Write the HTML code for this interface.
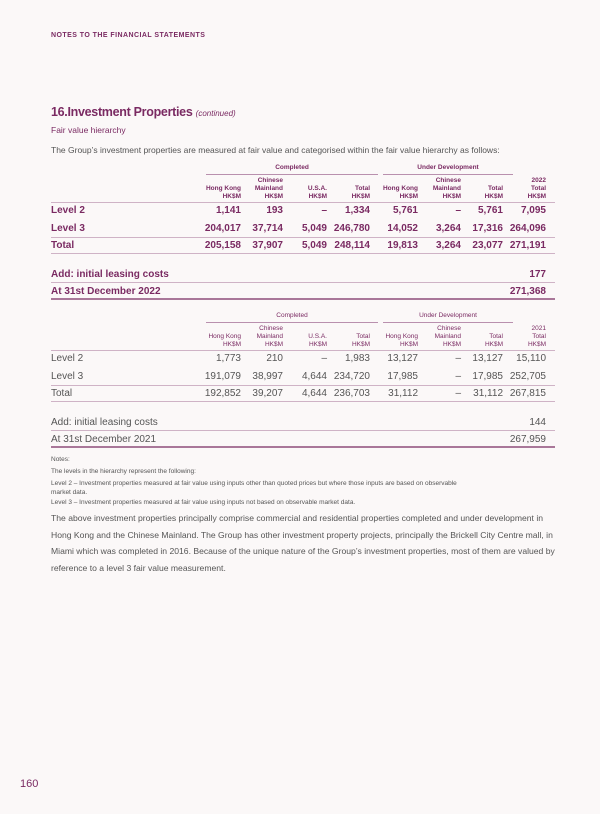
<!DOCTYPE html>
<html><head><meta charset="utf-8"><style>
body{margin:0;background:#fbf8f8;}
#p{position:relative;width:600px;height:814px;overflow:hidden;font-family:"Liberation Sans",sans-serif;color:#555;}
.a{position:absolute;white-space:nowrap;}
.r{position:absolute;text-align:right;white-space:nowrap;}
.pu{color:#7a2a62;}
.ln{position:absolute;left:51px;width:504px;height:1px;background:#cfb3c6;}
.t{font-size:10px;}
.h{font-size:6.5px;line-height:8px;}
.b{font-weight:bold;}
</style></head><body><div id="p">
<div class="a pu b" style="left:51px;top:32px;font-size:7px;letter-spacing:0.45px;">NOTES TO THE FINANCIAL STATEMENTS</div>
<div class="a pu" style="left:51px;top:105px;font-size:12.5px;font-weight:bold;letter-spacing:-0.3px;">16.Investment Properties <span style="font-size:8px;font-weight:normal;font-style:italic;letter-spacing:0;">(continued)</span></div>
<div class="a pu" style="left:51px;top:125px;font-size:8.5px;">Fair value hierarchy</div>
<div class="a" style="left:51px;top:145px;font-size:8.5px;">The Group’s investment properties are measured at fair value and categorised within the fair value hierarchy as follows:</div>

<div id="t1"></div>
<div id="t2"></div>

<div class="a" style="left:51px;top:455px;font-size:6.5px;line-height:9.5px;">Notes:<br><span style="line-height:14px">The levels in the hierarchy represent the following:</span><br>Level 2 – Investment properties measured at fair value using inputs other than quoted prices but where those inputs are based on observable<br>market data.<br>Level 3 – Investment properties measured at fair value using inputs not based on observable market data.</div>
<div class="a" style="left:51px;top:510px;font-size:8.6px;line-height:16.6px;">The above investment properties principally comprise commercial and residential properties completed and under development in<br>Hong Kong and the Chinese Mainland. The Group has other investment property projects, principally the Brickell City Centre mall, in<br>Miami which was completed in 2016. Because of the unique nature of the Group’s investment properties, most of them are valued by<br>reference to a level 3 fair value measurement.</div>
<div class="a pu" style="left:20px;top:778px;font-size:11px;">160</div>
<script>
var R=[241,283,327,370,418,461,503,546];
function tbl(el,y0,bold,year,rows,add,at){
 var h='',b=bold?'font-weight:bold;':'',c=bold?'color:#7a2a62;':'';
 h+='<div class="a h pu" style="left:206px;width:172px;text-align:center;top:'+(y0-4)+'px;'+b+'">Completed</div>';
 h+='<div class="a h pu" style="left:383px;width:130px;text-align:center;top:'+(y0-4)+'px;'+b+'">Under Development</div>';
 h+='<div class="a" style="left:206px;width:172px;height:1px;background:#b990ae;top:'+(y0+6)+'px"></div>';
 h+='<div class="a" style="left:383px;width:130px;height:1px;background:#b990ae;top:'+(y0+6)+'px"></div>';
 var hd=[['','Hong Kong','HK$M'],['Chinese','Mainland','HK$M'],['','U.S.A.','HK$M'],['','Total','HK$M'],['','Hong Kong','HK$M'],['Chinese','Mainland','HK$M'],['','Total','HK$M'],[year,'Total','HK$M']];
 hd.forEach(function(x,i){h+='<div class="r h pu" style="'+b+'right:'+(600-R[i])+'px;top:'+(y0+9)+'px">'+x.join('<br>')+'</div>';});
 var y=y0+34;
 h+='<div class="ln" style="top:'+y+'px"></div>';
 rows.forEach(function(r,k){
  var ty=y+3;
  h+='<div class="a t" style="'+b+c+'left:51px;top:'+ty+'px">'+r[0]+'</div>';
  for(var i=1;i<9;i++)h+='<div class="r t" style="'+b+c+'right:'+(600-R[i-1])+'px;top:'+ty+'px">'+r[i]+'</div>';
  y+=k==0?18:16.5;
  if(k>0)h+='<div class="ln" style="top:'+Math.round(y)+'px"></div>';
 });
 y=Math.round(y)+16;
 h+='<div class="a t" style="'+b+c+'left:51px;top:'+y+'px">Add: initial leasing costs</div><div class="r t" style="'+b+c+'right:54px;top:'+y+'px">'+add+'</div>';
 h+='<div class="ln" style="top:'+(y+13)+'px"></div>';
 h+='<div class="a t" style="'+b+c+'left:51px;top:'+(y+17)+'px">At 31st December '+year+'</div><div class="r t" style="'+b+c+'right:54px;top:'+(y+17)+'px">'+at+'</div>';
 h+='<div class="ln" style="top:'+(y+29)+'px;height:2px;background:#a97799"></div>';
 el.innerHTML=h;
}
tbl(document.getElementById('t1'),168,true,'2022',[
['Level 2','1,141','193','–','1,334','5,761','–','5,761','7,095'],
['Level 3','204,017','37,714','5,049','246,780','14,052','3,264','17,316','264,096'],
['Total','205,158','37,907','5,049','248,114','19,813','3,264','23,077','271,191']],'177','271,368');
tbl(document.getElementById('t2'),316,false,'2021',[
['Level 2','1,773','210','–','1,983','13,127','–','13,127','15,110'],
['Level 3','191,079','38,997','4,644','234,720','17,985','–','17,985','252,705'],
['Total','192,852','39,207','4,644','236,703','31,112','–','31,112','267,815']],'144','267,959');
</script>
</div></body></html>
